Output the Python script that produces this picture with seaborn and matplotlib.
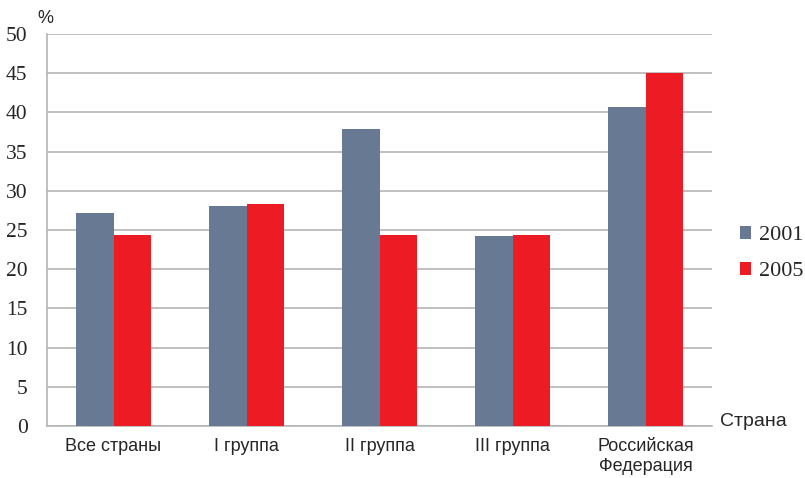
import matplotlib
matplotlib.use("Agg")
import matplotlib.pyplot as plt
import seaborn as sns
import pandas as pd

# Categories and series values (%)
categories = ["Все страны", "I группа", "II группа", "III группа", "Российская\nФедерация"]
years = ["2001", "2005"]
values_2001 = [27.2, 28.1, 37.9, 24.2, 40.7]
values_2005 = [24.4, 28.3, 24.4, 24.4, 45.0]
y_ticks = [0, 5, 10, 15, 20, 25, 30, 35, 40, 45, 50]

colors = {"2001": "#687994", "2005": "#ed1c24"}

df = pd.DataFrame({
    "group": categories * 2,
    "year": [years[0]] * len(categories) + [years[1]] * len(categories),
    "value": values_2001 + values_2005,
})

sns.set_style("white")

fig = plt.figure(figsize=(8.05, 4.78), dpi=100)
ax = fig.add_axes([0.0584, 0.1088, 0.8261, 0.8201])

sns.barplot(data=df, x="group", y="value", hue="year", order=categories,
            hue_order=years, palette=colors, saturation=1, width=0.57,
            gap=0, ax=ax, zorder=3, linewidth=0)

ax.set_ylim(0, 50)
ax.set_xlim(-0.5, len(categories) - 0.5)
ax.set_yticks(y_ticks)
ax.set_yticklabels([str(t) for t in y_ticks], family="Liberation Serif", fontsize=15.5)
ax.tick_params(axis="y", length=0, pad=14)
ax.tick_params(axis="x", length=0, pad=9)
for lbl in ax.get_xticklabels():
    lbl.set_family("Liberation Sans")
    lbl.set_fontsize(13)
    lbl.set_linespacing(1.2)

ax.yaxis.grid(True, color="#b5b5b5", linewidth=1.2, zorder=0)
ax.xaxis.grid(False)
for side in ("top", "right"):
    ax.spines[side].set_visible(False)
ax.spines["left"].set_color("#b5b5b5")
ax.spines["bottom"].set_color("#b5b5b5")
ax.spines["left"].set_linewidth(1.2)
ax.spines["bottom"].set_linewidth(1.2)

ax.set_xlabel("")
ax.set_ylabel("")

fig.text(0.047, 0.962, "%", family="Liberation Sans", fontsize=13, ha="left", va="center")
fig.text(0.894, 0.118, "Страна", family="Liberation Sans", fontsize=14, ha="left", va="center")

handles, labels = ax.get_legend_handles_labels()
ax.legend(handles, labels, loc="center left", bbox_to_anchor=(1.025, 0.44),
          frameon=False, prop={"family": "Liberation Serif", "size": 16},
          handlelength=0.5, handleheight=0.5, handletextpad=0.35, labelspacing=0.75,
          borderpad=0)

fig.savefig("out.png", dpi=100)
